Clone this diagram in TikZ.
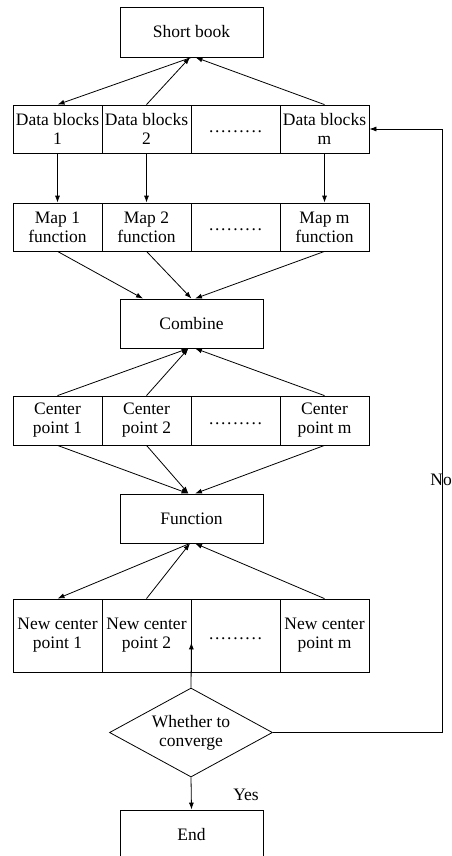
\documentclass[tikz,border=0pt]{standalone}
\usepackage{fontspec}
\setmainfont{Liberation Serif}
\usetikzlibrary{shapes.geometric, arrows.meta}

% rangee de points pour les cases vides
\newcommand{\dk}{.\kern1.7pt}
\newcommand{\gapdots}{\strut\dk\dk\dk\dk\dk\dk\dk\dk.}

\begin{document}
\begin{tikzpicture}[x=1pt, y=-1pt, line width=0.8pt,
    every node/.style={font=\fontsize{17.5}{19}\selectfont},
    cell/.style={draw, minimum width=89pt, minimum height=48pt, inner sep=0pt, align=center},
    bigbox/.style={draw, minimum width=143pt, minimum height=49pt, inner sep=0pt},
    arr/.style={-{Latex[length=7pt, width=5pt]}}]

    \useasboundingbox (0,0) rectangle (452,856);

    % Boite du haut
    \node[bigbox, minimum height=50pt] (short) at (191.5,32) {Short book};

    % Blocs de donnees
    \node[cell] (d1) at (57.5,129) {Data blocks\\1};
    \node[cell] (d2) at (146.5,129) {Data blocks\\2};
    \node[cell] (d3) at (235.5,129) {\gapdots};
    \node[cell] (dm) at (324.5,129) {Data blocks\\m};

    % Fonctions Map
    \node[cell] (m1) at (57.5,227) {Map 1\\function};
    \node[cell] (m2) at (146.5,227) {Map 2\\function};
    \node[cell] (m3) at (235.5,227) {\gapdots};
    \node[cell] (mm) at (324.5,227) {Map m\\function};

    \node[bigbox] (combine) at (191.5,323.5) {Combine};

    % Centres
    \node[cell, minimum height=49pt] (c1) at (57.5,420.5) {Center\\point 1};
    \node[cell, minimum height=49pt] (c2) at (146.5,420.5) {Center\\point 2};
    \node[cell, minimum height=49pt] (c3) at (235.5,420.5) {\gapdots};
    \node[cell, minimum height=49pt] (cm) at (324.5,420.5) {Center\\point m};

    \node[bigbox] (func) at (191.5,518.5) {Function};

    % Nouveaux centres
    \node[cell, minimum height=73pt] (n1) at (57.5,635.5) {New center\\point 1};
    \node[cell, minimum height=73pt] (n2) at (146.5,635.5) {New center\\point 2};
    \node[cell, minimum height=73pt] (n3) at (235.5,635.5) {\gapdots};
    \node[cell, minimum height=73pt] (nm) at (324.5,635.5) {New center\\point m};

    % Test et fin
    \node[draw, diamond, aspect=1.83, minimum width=163pt, minimum height=89pt,
        inner sep=0pt, align=center] (decide) at (191,732.5) {Whether to\\converge};
    \node[bigbox, minimum height=50pt] (end) at (191.5,835) {End};
    \node (yes) at (246,795) {Yes};
    \node[anchor=west, inner sep=0pt] (no) at (430,480) {No};

    \coordinate (loopin) at ([yshift=30pt]n2.south east);
    \coordinate (turn) at (442,732.5);

    % Fleches
    \draw[arr] (short.south) -- (d1.north);
    \draw[arr] (d2.north) -- ([xshift=-1.5pt]short.south);
    \draw[arr] (dm.north) -- ([xshift=4pt]short.south);

    \draw[arr] (d1.south) -- (m1.north);
    \draw[arr] (d2.south) -- (m2.north);
    \draw[arr] (dm.south) -- (mm.north);

    \draw[arr] (m1.south) -- ([xshift=-48.5pt]combine.north);
    \draw[arr] (m2.south) -- (combine.north);
    \draw[arr] (mm.south) -- ([xshift=3.5pt]combine.north);

    \draw[arr] (c1.north) -- ([xshift=-3pt]combine.south);
    \draw[arr] (c2.north) -- ([xshift=-3pt]combine.south);
    \draw[arr] (cm.north) -- ([xshift=3.5pt]combine.south);

    \draw[arr] (c1.south) -- ([xshift=-3pt]func.north);
    \draw[arr] (c2.south) -- ([xshift=-3pt]func.north);
    \draw[arr] (cm.south) -- ([xshift=3.5pt]func.north);

    \draw[arr] ([xshift=-1.5pt]func.south) -- (n1.north);
    \draw[arr] (n2.north) -- ([xshift=-1.5pt]func.south);
    \draw[arr] (nm.north) -- ([xshift=3.5pt]func.south);

    \draw[arr] (decide.north) -- (loopin);
    \draw[arr] (decide.east) -- (turn) |- (dm.east);
    \draw[arr] (decide.south) -- (end.north);

\end{tikzpicture}
\end{document}
